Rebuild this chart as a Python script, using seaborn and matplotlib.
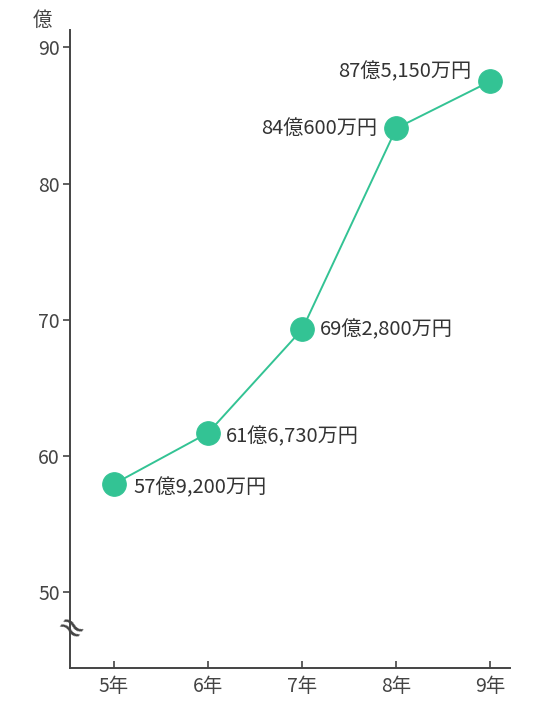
import pandas as pd
import matplotlib.pyplot as plt
import seaborn as sns

years = [5, 6, 7, 8, 9]
year_labels = ['5年', '6年', '7年', '8年', '9年']
amounts = [57.92, 61.673, 69.28, 84.06, 87.515]
amount_labels = ['57億9,200万円', '61億6,730万円', '69億2,800万円', '84億600万円', '87億5,150万円']

data = pd.DataFrame({'year': years, 'amount': amounts})

sns.set_style('white')
plt.rcParams['font.family'] = ['Noto Sans CJK JP', 'DejaVu Sans']

fig = plt.figure(figsize=(5.41, 7.09), dpi=100)
ax = fig.add_axes([0.129, 0.058, 0.814, 0.9])

green = '#33c394'
sns.lineplot(x='year', y='amount', data=data, ax=ax, color=green, linewidth=1.4,
             marker='o', markersize=17, markeredgecolor=green)

ax.set_xlim(4.53, 9.21)
ax.set_ylim(44.4, 91.3)
ax.set_xticks(years)
ax.set_xticklabels(year_labels)
ax.set_yticks([50, 60, 70, 80, 90])
ax.set_xlabel('')
ax.set_ylabel('')

for s in ['top', 'right']:
    ax.spines[s].set_visible(False)
for s in ['left', 'bottom']:
    ax.spines[s].set_color('#444444')
    ax.spines[s].set_linewidth(1.4)

ax.tick_params(axis='y', left=True, direction='out', length=5, width=1.2, color='#444444',
               labelsize=14, labelcolor='#444444', pad=2)
ax.tick_params(axis='x', bottom=True, direction='in', length=5, width=1.2, color='#444444',
               labelsize=14, labelcolor='#444444', pad=6)

# value labels
offsets = [(14, -3), (13, -3), (13, 0), (-14, 0), (-14, 7)]
for x, y, lab, off in zip(years, amounts, amount_labels, offsets):
    ha = 'left' if off[0] > 0 else 'right'
    ax.annotate(lab, (x, y), xytext=off, textcoords='offset points',
                ha=ha, va='center', fontsize=14.5, color='#333333')

# unit label and axis break mark
fig.text(42 / 541, 1 - 20 / 709, '億', fontsize=14, color='#444444',
         ha='center', va='center')
ax.text(0.0, 0.06, '≈', transform=ax.transAxes, fontsize=24, color='#444444',
        ha='center', va='center', rotation=-35, family=['DejaVu Sans'])

plt.savefig('out.png', dpi=100)
